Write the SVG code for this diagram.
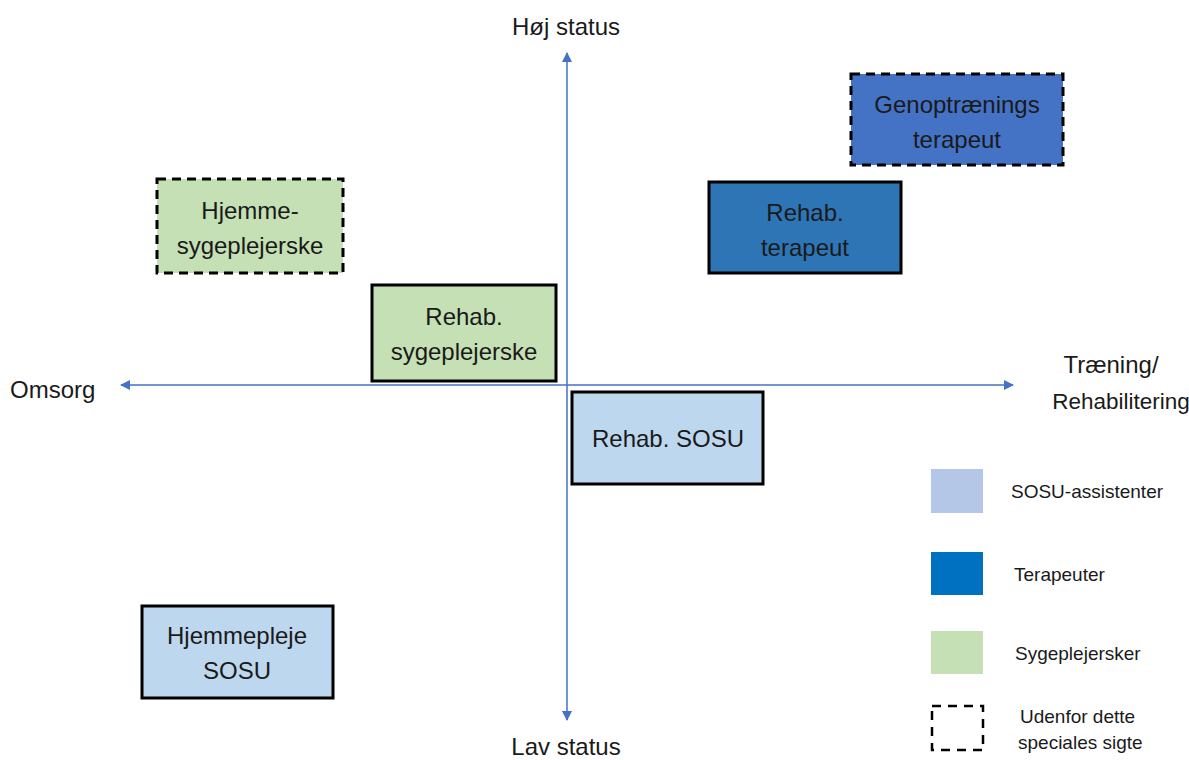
<svg xmlns="http://www.w3.org/2000/svg" width="1189" height="760" viewBox="0 0 1189 760">
<defs>
<style>
text{font-family:"Liberation Sans","Open Sans",sans-serif;fill:#1a1a1a}
.lbl{font-size:24px;text-anchor:middle}
.ax{font-size:24px}
.leg{font-size:19px}
.box{stroke:#000;stroke-width:3}
.dash{stroke-dasharray:9 6}
.axis{stroke:#4472C4;stroke-width:1.5;fill:none}
</style>
<marker id="ah" viewBox="0 0 10 10" refX="9" refY="5" markerWidth="10" markerHeight="10" orient="auto-start-reverse" markerUnits="userSpaceOnUse">
<path d="M0,0 L10,5 L0,10 z" fill="#4472C4"/>
</marker>
</defs>
<rect width="1189" height="760" fill="#fff"/>
<g id="connectors">
<line class="axis" x1="567" y1="385" x2="567" y2="53" marker-end="url(#ah)"/>
<line class="axis" x1="567" y1="385" x2="567" y2="720" marker-end="url(#ah)"/>
<line class="axis" x1="121" y1="385" x2="1013" y2="385" marker-start="url(#ah)" marker-end="url(#ah)"/>
</g>
<g id="axis-labels">
<text class="ax" x="566" y="35" text-anchor="middle">Høj status</text>
<text class="ax" x="566" y="755" text-anchor="middle">Lav status</text>
<text class="ax" x="10" y="398">Omsorg</text>
<text class="ax" x="1111" y="373" text-anchor="middle">Træning/</text>
<text x="1121" y="409" text-anchor="middle" style="font-size:22.5px">Rehabilitering</text>
</g>
<g id="genoptraenings">
<rect class="box dash" x="851" y="74" width="212" height="91" fill="#4472C4"/>
<text class="lbl" x="957" y="113">Genoptrænings</text>
<text class="lbl" x="957" y="148">terapeut</text>
</g>
<g id="hjemmesygeplejerske">
<rect class="box dash" x="157" y="179" width="186" height="94" fill="#C5E0B4"/>
<text class="lbl" x="250" y="219">Hjemme-</text>
<text class="lbl" x="250" y="254">sygeplejerske</text>
</g>
<g id="rehab-terapeut">
<rect class="box" x="709" y="182" width="192" height="91" fill="#2E75B6"/>
<text class="lbl" x="805" y="221">Rehab.</text>
<text class="lbl" x="805" y="256">terapeut</text>
</g>
<g id="rehab-sygeplejerske">
<rect class="box" x="372" y="285" width="184" height="96" fill="#C5E0B4"/>
<text class="lbl" x="464" y="325">Rehab.</text>
<text class="lbl" x="464" y="360">sygeplejerske</text>
</g>
<g id="rehab-sosu">
<rect class="box" x="572" y="392" width="191" height="92" fill="#BDD7EE"/>
<text class="lbl" x="668" y="447">Rehab. SOSU</text>
</g>
<g id="hjemmepleje-sosu">
<rect class="box" x="142" y="606" width="191" height="92" fill="#BDD7EE"/>
<text class="lbl" x="237" y="644">Hjemmepleje</text>
<text class="lbl" x="237" y="679">SOSU</text>
</g>
<g id="legend">
<rect x="931" y="469" width="52" height="44" fill="#B4C7E7"/>
<text class="leg" x="1011" y="498">SOSU-assistenter</text>
<rect x="931" y="552" width="52" height="43" fill="#0070C0"/>
<text class="leg" x="1014" y="581">Terapeuter</text>
<rect x="931" y="631" width="52" height="43" fill="#C5E0B4"/>
<text class="leg" x="1015" y="660">Sygeplejersker</text>
<rect x="932" y="706" width="51" height="44" fill="none" stroke="#000" stroke-width="2.5" stroke-dasharray="9 7"/>
<text class="leg" x="1020" y="723">Udenfor dette</text>
<text class="leg" x="1018" y="749">speciales sigte</text>
</g>
</svg>
